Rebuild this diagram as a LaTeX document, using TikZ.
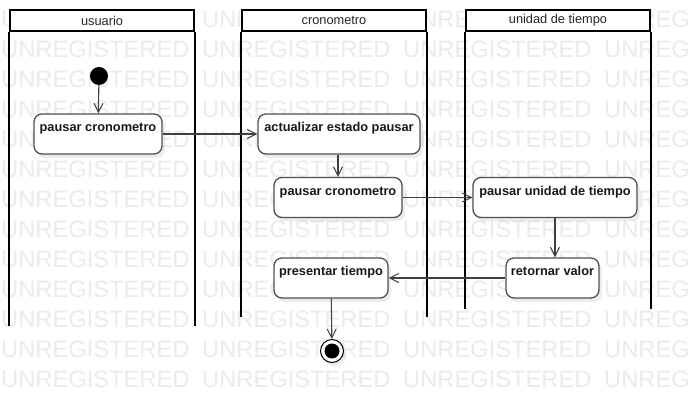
\documentclass[tikz,border=0pt]{standalone}
\usepackage{fontspec}
\setmainfont{Liberation Sans}
\usetikzlibrary{arrows.meta,shadows}
\definecolor{wmcol}{HTML}{EBEBEB}
\definecolor{boxcol}{HTML}{505050}
\definecolor{conncol}{HTML}{404040}
\tikzset{
  wmtext/.style={anchor=base west, inner sep=0pt, text=wmcol, font=\fontsize{23.7}{26}\selectfont},
  lanehead/.style={draw=black, line width=2pt, fill=white, minimum width=184pt, minimum height=21pt, inner sep=0pt, font=\fontsize{12.8}{15}\selectfont, text=black!85},
  laneline/.style={draw=black, line width=2pt},
  act/.style={draw=boxcol, line width=1.3pt, fill=white, rounded corners=8pt, inner xsep=0pt, inner ysep=4pt, text height=13.7pt, text depth=18.3pt, font=\bfseries\fontsize{12.8}{15}\selectfont, text=black!90, drop shadow={shadow xshift=3pt, shadow yshift=-4pt, fill=black, opacity=0.07}},
  conn/.style={draw=conncol, line width=1.1pt, -{Straight Barb[length=9pt,width=9pt,line width=1pt]}},
}
\begin{document}
\begin{tikzpicture}[x=1pt,y=-1pt]
\useasboundingbox (0,0) rectangle (690,403);
\fill[white] (0,0) rectangle (690,403);
% watermark
\foreach \r in {0,...,12}{
  \foreach \c in {0,...,3}{
    \node[wmtext] (wm-\r-\c) at (\c*201+1, 27.5+\r*30) {UNREGISTERED};
  }
}
% swimlanes
\node[lanehead] (h1) at (102,20.5) {usuario};
\node[lanehead] (h2) at (334,20.5) {cronometro};
\node[lanehead] (h3) at (558,20.5) {unidad de tiempo};
\draw[laneline] (h1.south west) -- ++(0,294);
\draw[laneline] (h1.south east) -- ++(0,294);
\draw[laneline] (h2.south west) -- ++(0,285);
\draw[laneline] (h2.south east) -- ++(0,285);
\draw[laneline] (h3.south west) -- ++(0,277);
\draw[laneline] (h3.south east) -- ++(0,277);
% activities
\node[act, minimum width=128pt] (n1) at (98,134) {pausar cronometro};
\node[act, minimum width=162pt] (n2) at (339,134) {actualizar estado pausar};
\node[act, minimum width=128pt] (n3) at (338,197.5) {pausar cronometro};
\node[act, minimum width=164pt] (n4) at (555,197.5) {pausar unidad de tiempo};
\node[act, minimum width=93pt] (n5) at (552.5,278) {retornar valor};
\node[act, minimum width=114pt] (n6) at (331,278) {presentar tiempo};
% initial and final
\node[circle, fill=black, minimum size=18pt, inner sep=0pt] (init) at (99,76) {};
\node[circle, draw=black, line width=1pt, fill=white, minimum size=23pt, inner sep=0pt, drop shadow={shadow xshift=3pt, shadow yshift=-4pt, fill=black, opacity=0.07}] (fin) at (332,351) {};
\node[circle, fill=black, minimum size=15pt, inner sep=0pt] (finin) at (fin.center) {};
% connectors
\draw[conn] (init) -- (n1);
\draw[conn] (n1) -- (n2);
\draw[conn] (n2.south -| n3.north) -- (n3.north);
\draw[conn] (n3) -- (n4);
\draw[conn] (n4.south) -- (n4.south |- n5.north);
\draw[conn] (n5) -- (n6);
\draw[conn] (n6) -- (fin);
\end{tikzpicture}
\end{document}
